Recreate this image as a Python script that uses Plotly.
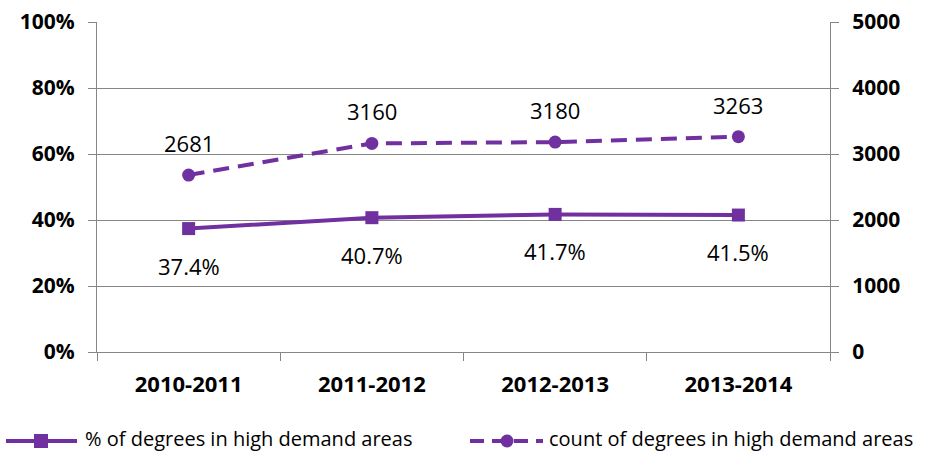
import plotly.graph_objects as go

years = ["2010-2011", "2011-2012", "2012-2013", "2013-2014"]
pct_high_demand = [37.4, 40.7, 41.7, 41.5]
count_high_demand = [2681, 3160, 3180, 3263]

pct_ticks = [0, 20, 40, 60, 80, 100]
count_ticks = [0, 1000, 2000, 3000, 4000, 5000]

series_names = ["% of degrees in high demand areas", "count of degrees in high demand areas"]

purple = "#7030A0"
grid = "#868686"
font_family = "Open Sans, Noto Sans, sans-serif"
dash_style = "16px,9px"

W, H = 927, 454
ML, MR, MT, MB = 97, 97, 22, 102
PW, PH = W - ML - MR, H - MT - MB


def px_x(px):
    return (px - ML) / PW


def px_y(py):
    return (H - MB - py) / PH


fig = go.Figure()

fig.add_trace(go.Scatter(
    x=years, y=pct_high_demand, name=series_names[0],
    mode="lines+markers",
    line=dict(color=purple, width=4),
    marker=dict(symbol="square", size=13, color=purple),
    yaxis="y", showlegend=False,
))

fig.add_trace(go.Scatter(
    x=years, y=count_high_demand, name=series_names[1],
    mode="lines+markers",
    line=dict(color=purple, width=4, dash=dash_style),
    marker=dict(symbol="circle", size=13, color=purple),
    yaxis="y2", showlegend=False,
))

label_font = dict(size=22, color="#000000", family=font_family)
annotations = []
for yr, v in zip(years, pct_high_demand):
    annotations.append(dict(x=yr, y=v, xref="x", yref="y", text=f"{v:.1f}%",
                            showarrow=False, yshift=-37, font=label_font))
for yr, v in zip(years, count_high_demand):
    annotations.append(dict(x=yr, y=v, xref="x", yref="y2", text=f"{v}",
                            showarrow=False, yshift=32, font=label_font))

# legend drawn below the plot: line sample, marker, and caption
sym_y = px_y(441)
text_y = px_y(438)
legend_font = dict(size=20, color="#000000", family=font_family)
shapes = [
    dict(type="line", xref="paper", yref="paper", x0=px_x(6), x1=px_x(77),
         y0=sym_y, y1=sym_y, line=dict(color=purple, width=4)),
    dict(type="rect", xref="paper", yref="paper", xsizemode="pixel", ysizemode="pixel",
         xanchor=px_x(41), yanchor=sym_y, x0=-7, x1=7, y0=-7, y1=7,
         fillcolor=purple, line=dict(width=0)),
    dict(type="line", xref="paper", yref="paper", x0=px_x(470), x1=px_x(543),
         y0=sym_y, y1=sym_y, line=dict(color=purple, width=4, dash="14px,8px")),
    dict(type="circle", xref="paper", yref="paper", xsizemode="pixel", ysizemode="pixel",
         xanchor=px_x(507), yanchor=sym_y, x0=-6.5, x1=6.5, y0=-6.5, y1=6.5,
         fillcolor=purple, line=dict(width=0)),
]
annotations.append(dict(x=px_x(83), y=text_y, xref="paper", yref="paper",
                        xanchor="left", yanchor="middle", showarrow=False,
                        text=series_names[0], font=legend_font))
annotations.append(dict(x=px_x(547), y=text_y, xref="paper", yref="paper",
                        xanchor="left", yanchor="middle", showarrow=False,
                        text=series_names[1], font=legend_font))

tick_font = dict(size=21, family=font_family, weight="bold", color="#000000")

fig.update_layout(
    width=W, height=H,
    margin=dict(l=ML, r=MR, t=MT, b=MB, autoexpand=False),
    paper_bgcolor="white", plot_bgcolor="white",
    font=dict(family=font_family, color="#000000"),
    showlegend=False,
    annotations=annotations,
    shapes=shapes,
    xaxis=dict(
        type="category", range=[-0.5, 3.5],
        showline=True, linecolor=grid, linewidth=1,
        ticks="outside", tickson="boundaries", ticklen=8, tickcolor=grid,
        showgrid=False, zeroline=False, ticklabelstandoff=13,
        tickfont=dict(size=22, family=font_family, weight="bold", color="#000000"),
    ),
    yaxis=dict(
        range=[0, 100], tickvals=pct_ticks, ticktext=[f"{t}%" for t in pct_ticks],
        showline=True, linecolor=grid, linewidth=1,
        ticks="outside", ticklen=8, tickcolor=grid,
        showgrid=True, gridcolor=grid, gridwidth=1, zeroline=False,
        ticklabelstandoff=9,
        tickfont=tick_font,
    ),
    yaxis2=dict(
        range=[0, 5000], tickvals=count_ticks, overlaying="y", side="right",
        showline=True, linecolor=grid, linewidth=1,
        ticks="outside", ticklen=8, tickcolor=grid,
        showgrid=False, zeroline=False, ticklabelstandoff=9,
        tickfont=tick_font,
    ),
)

fig.write_html("out.html")
